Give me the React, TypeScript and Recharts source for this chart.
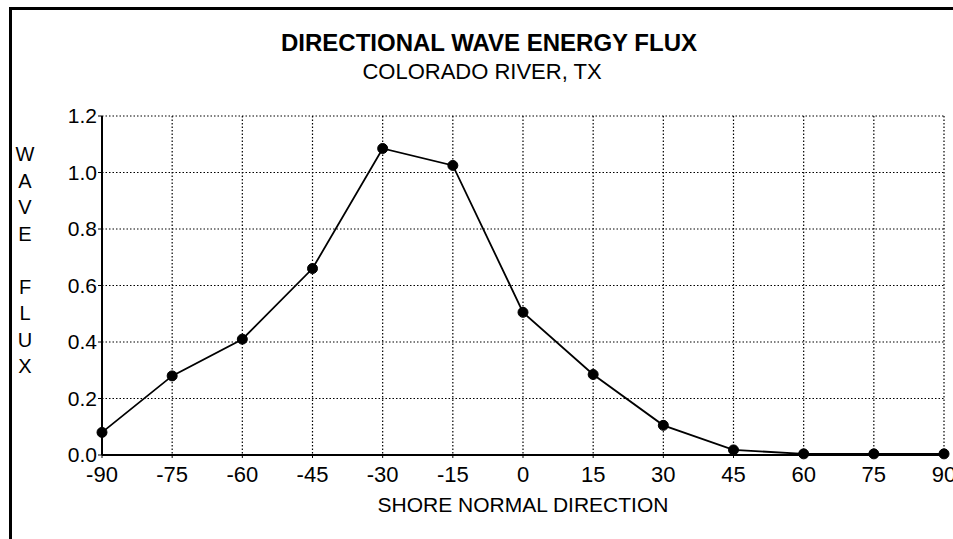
import React from "react";
import { LineChart, Line, XAxis, YAxis, CartesianGrid } from "recharts";

const directions = [-90, -75, -60, -45, -30, -15, 0, 15, 30, 45, 60, 75, 90];
const fluxValues = [0.08, 0.28, 0.41, 0.66, 1.085, 1.025, 0.505, 0.285, 0.105, 0.018, 0.004, 0.004, 0.004];
const xTicks = [-90, -75, -60, -45, -30, -15, 0, 15, 30, 45, 60, 75, 90];
const yTicks = [0, 0.2, 0.4, 0.6, 0.8, 1.0, 1.2];
const yLabelLetters = ["W", "A", "V", "E", "", "F", "L", "U", "X"];

const data = directions.map((d, i) => ({ dir: d, flux: fluxValues[i] }));

const FONT = '"Liberation Sans", Arial, sans-serif';

const YLabel = (props: any) => {
  const vb = props.viewBox || {};
  const x = 25;
  const top = vb.y != null ? vb.y + 38 : 154;
  return (
    <text x={x} y={top} textAnchor="middle" fontFamily={FONT} fontSize={20} fill="#000">
      {yLabelLetters.map((l, i) => (
        <tspan key={i} x={x} y={top + i * 26.5} dominantBaseline="central">
          {l === "" ? "\u00a0" : l}
        </tspan>
      ))}
    </text>
  );
};

export default function App() {
  return (
    <div style={{ position: "absolute", left: 0, top: 0, width: 953, height: 539, background: "#fff", overflow: "hidden" }}>
      <div style={{ position: "absolute", left: 9, top: 7, width: 944, height: 3, background: "#000" }} />
      <div style={{ position: "absolute", left: 9, top: 7, width: 3, height: 532, background: "#000" }} />
      <div
        style={{
          position: "absolute", left: 0, width: 978, top: 29, textAlign: "center",
          fontFamily: FONT, fontWeight: "bold", fontSize: 24, lineHeight: "28px", color: "#000",
        }}
      >
        DIRECTIONAL WAVE ENERGY FLUX
      </div>
      <div
        style={{
          position: "absolute", left: 0, width: 964, top: 59, textAlign: "center",
          fontFamily: FONT, fontSize: 22, lineHeight: "26px", color: "#000",
        }}
      >
        COLORADO RIVER, TX
      </div>
      <LineChart
        width={953}
        height={539}
        data={data}
        margin={{ top: 116, right: 9, bottom: 54, left: 0 }}
        style={{ position: "absolute", left: 0, top: 0 }}
      >
        <CartesianGrid stroke="#000" strokeWidth={1.2} strokeDasharray="1.5 2" horizontalValues={yTicks} verticalValues={xTicks} />
        <XAxis
          dataKey="dir"
          type="number"
          domain={[-90, 90]}
          ticks={xTicks}
          height={30}
          tickSize={3}
          tickMargin={8}
          axisLine={{ stroke: "#000", strokeWidth: 2 }}
          tickLine={{ stroke: "#000" }}
          tick={{ fill: "#000", fontSize: 22, fontFamily: FONT }}
          interval={0}
          label={{ value: "SHORE NORMAL DIRECTION", position: "bottom", offset: 12, fill: "#000", fontSize: 21, fontFamily: FONT }}
        />
        <YAxis
          type="number"
          domain={[0, 1.2]}
          ticks={yTicks}
          width={102}
          tickSize={4}
          tickMargin={1}
          axisLine={{ stroke: "#000", strokeWidth: 2 }}
          tickLine={{ stroke: "#000" }}
          tick={{ fill: "#000", fontSize: 21, fontFamily: FONT }}
          tickFormatter={(v: number) => v.toFixed(1)}
          interval={0}
          label={<YLabel />}
        />
        <Line
          type="linear"
          dataKey="flux"
          stroke="#000"
          strokeWidth={1.8}
          dot={{ r: 5, fill: "#000", stroke: "#000", strokeWidth: 1 }}
          isAnimationActive={false}
        />
      </LineChart>
    </div>
  );
}
